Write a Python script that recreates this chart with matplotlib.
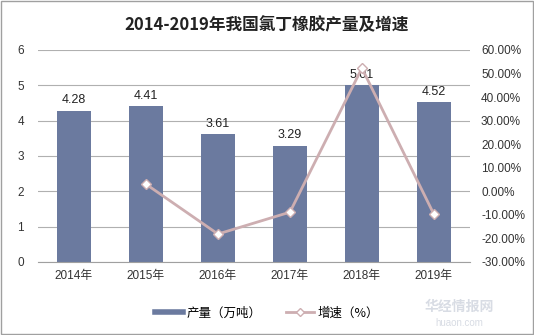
import matplotlib
matplotlib.use("Agg")
import matplotlib.pyplot as plt
from matplotlib.ticker import FuncFormatter, MultipleLocator
from matplotlib.lines import Line2D
from matplotlib.patches import Rectangle

plt.rcParams['font.family'] = ['Liberation Sans', 'Noto Sans CJK SC', 'DejaVu Sans']

years = ['2014年', '2015年', '2016年', '2017年', '2018年', '2019年']
output = [4.28, 4.41, 3.61, 3.29, 5.01, 4.52]
growth_years = ['2015年', '2016年', '2017年', '2018年', '2019年']
growth = [3.04, -18.14, -8.86, 52.28, -9.78]

bar_color = '#6B7A9F'
line_color = '#CDAEB1'

fig = plt.figure(figsize=(5.34, 3.35), dpi=100)
ax = fig.add_axes([0.071, 0.218, 0.809, 0.633])
x = list(range(len(years)))
ax.bar(x, output, width=0.48, color=bar_color, zorder=2)
for xi, v in zip(x, output):
    ax.text(xi, v + 0.12, f'{v:.2f}', ha='center', va='bottom', fontsize=9, color='#222222')
ax.set_ylim(0, 6)
ax.set_xlim(-0.5, 5.5)
ax.yaxis.set_major_locator(MultipleLocator(1))
ax.grid(axis='y', color='#B0B0B0', linewidth=0.8, zorder=0)
ax.set_xticks(x)
ax.set_xticklabels(years, fontsize=8)
ax.tick_params(axis='both', length=0, labelsize=8.5, colors='#333333')
ax.tick_params(axis='x', pad=6)
ax.tick_params(axis='y', pad=10)
for s in ['top', 'right', 'left']:
    ax.spines[s].set_visible(False)
ax.spines['bottom'].set_color('#A0A0A0')

ax2 = ax.twinx()
gx = [years.index(y) for y in growth_years]
ax2.plot(gx, growth, color=line_color, linewidth=2, marker='D', markersize=5,
         markerfacecolor='white', markeredgecolor=line_color, zorder=3)
ax2.set_ylim(-30, 60)
ax2.yaxis.set_major_locator(MultipleLocator(10))
ax2.yaxis.set_major_formatter(FuncFormatter(lambda v, p: f'{v:.2f}%'))
ax2.tick_params(axis='y', length=0, labelsize=8.5, colors='#333333', pad=8)
for s in ['top', 'right', 'left', 'bottom']:
    ax2.spines[s].set_visible(False)

fig.text(0.5, 0.925, '2014-2019年我国氯丁橡胶产量及增速', ha='center', va='center',
         fontsize=12, fontweight='bold', color='#222222', family=['Noto Sans CJK SC'])

handles = [Line2D([0], [0], color=bar_color, linewidth=4),
           Line2D([0], [0], color=line_color, linewidth=2, marker='D', markersize=4,
                  markerfacecolor='white', markeredgecolor=line_color)]
fig.legend(handles, ['产量（万吨）', '增速（%）'], loc='center', bbox_to_anchor=(0.5, 0.065),
           ncol=2, frameon=False, fontsize=9, handlelength=2.2, columnspacing=2.0,
           handletextpad=0.3, prop={'family': ['Noto Sans CJK SC'], 'size': 9})

fig.text(0.86, 0.085, '华经情报网', ha='center', va='center', fontsize=10, color='#D8DCE4',
         fontweight='bold', family=['Noto Sans CJK SC'])
fig.text(0.86, 0.035, 'huaon.com', ha='center', va='center', fontsize=7, color='#D8DCE4')

fig.patches.append(Rectangle((0.002, 0.003), 0.996, 0.994, transform=fig.transFigure,
                             fill=False, edgecolor='#A0A0A0', linewidth=1))
fig.savefig('out.png', dpi=100)
